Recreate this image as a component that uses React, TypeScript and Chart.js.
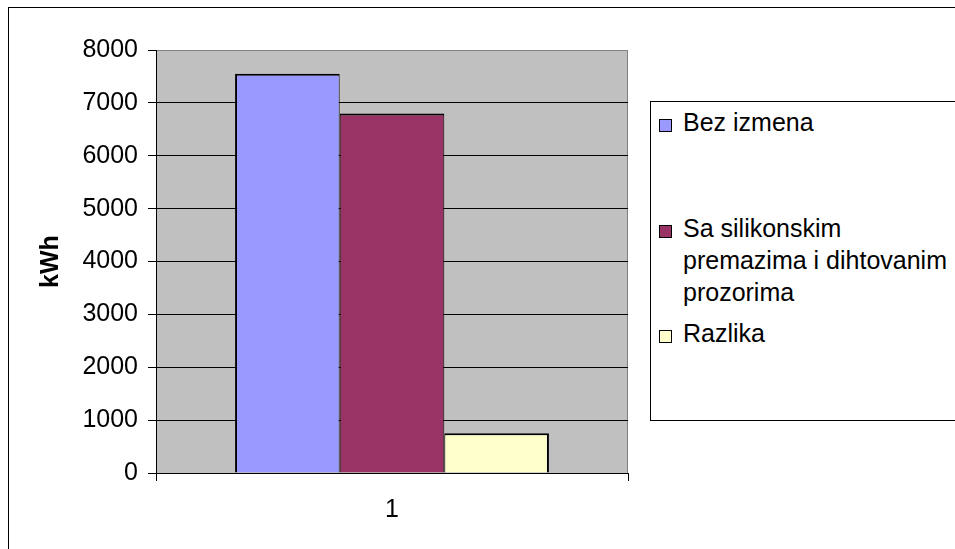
import React, { useEffect, useRef } from "react";
import { Chart, registerables } from "chart.js";

Chart.register(...registerables);

const categories = ["1"];
const seriesNames = [
  "Bez izmena",
  "Sa silikonskim premazima i dihtovanim prozorima",
  "Razlika",
];
const bezIzmena = [7550];
const saSilikonskim = [6800];
const razlika = [750];
const seriesColors = ["#9999FF", "#993366", "#FFFFCC"];
const yMin = 0;
const yMax = 8000;
const yStep = 1000;
const yTitle = "kWh";

const FONT = '"Liberation Sans", Arial, sans-serif';

const plotBg = {
  id: "plotBg",
  beforeDraw(chart: any) {
    const { ctx, chartArea } = chart;
    ctx.save();
    ctx.fillStyle = "#C0C0C0";
    ctx.fillRect(chartArea.left, chartArea.top, chartArea.right - chartArea.left, chartArea.bottom - chartArea.top);
    ctx.strokeStyle = "#808080";
    ctx.lineWidth = 1;
    ctx.strokeRect(chartArea.left + 0.5, chartArea.top + 0.5, chartArea.right - chartArea.left - 1, chartArea.bottom - chartArea.top);
    ctx.restore();
  },
};

export default function App() {
  const canvasRef = useRef<HTMLCanvasElement | null>(null);

  useEffect(() => {
    if (!canvasRef.current) return;
    const values = [bezIzmena, saSilikonskim, razlika];
    const borders = [
      { top: 2, left: 2, right: 1, bottom: 0 },
      { top: 2, left: 1, right: 1, bottom: 0 },
      { top: 2, left: 1, right: 2, bottom: 0 },
    ];
    const chart = new Chart(canvasRef.current, {
      type: "bar",
      data: {
        labels: categories,
        datasets: seriesNames.map((name, i) => ({
          label: name,
          data: values[i],
          backgroundColor: seriesColors[i],
          borderColor: "#000000",
          borderWidth: borders[i],
          borderSkipped: false,
          categoryPercentage: 0.665,
          barPercentage: 1,
        })),
      },
      options: {
        responsive: false,
        animation: false,
        layout: { padding: { top: 50, right: 327, left: 0, bottom: 0 } },
        plugins: {
          legend: { display: false },
          tooltip: { enabled: false },
        },
        scales: {
          x: {
            grid: {
              display: true,
              drawOnChartArea: false,
              drawTicks: true,
              tickLength: 8,
              color: "#000000",
              offset: true,
            },
            border: { display: true, color: "#000000", width: 1 },
            ticks: { color: "#000000", font: { family: FONT, size: 25 }, padding: 14 },
            afterFit: (s: any) => {
              s.height = 76;
            },
          },
          y: {
            min: yMin,
            max: yMax,
            ticks: {
              stepSize: yStep,
              color: "#000000",
              font: { family: FONT, size: 25 },
              padding: 10,
              callback: (v: any) => String(v),
            },
            grid: {
              color: (c: any) => (c.tick && c.tick.value === yMax ? "#808080" : "#000000"),
              tickColor: "#000000",
              tickLength: 8,
              lineWidth: 1,
            },
            border: { display: true, color: "#000000", width: 1 },
            title: {
              display: true,
              text: yTitle,
              color: "#000000",
              font: { family: FONT, size: 25, weight: "bold" },
              padding: { top: 36, bottom: 0 },
            },
            afterFit: (s: any) => {
              s.width = 156;
            },
          },
        },
      },
      plugins: [plotBg],
    });
    return () => chart.destroy();
  }, []);

  const itemTops = [106, 212, 317];

  return (
    <div
      style={{
        position: "absolute",
        left: 0,
        top: 0,
        width: 955,
        height: 549,
        overflow: "hidden",
        background: "#ffffff",
        fontFamily: FONT,
      }}
    >
      <div
        style={{
          position: "absolute",
          left: 8,
          top: 7,
          width: 1100,
          height: 700,
          borderLeft: "1px solid #000",
          borderTop: "1px solid #000",
        }}
      />
      <canvas
        ref={canvasRef}
        width={955}
        height={549}
        style={{ position: "absolute", left: 0, top: 0, width: 955, height: 549 }}
      />
      <div
        style={{
          position: "absolute",
          left: 650,
          top: 101,
          width: 400,
          height: 318,
          border: "1px solid #000",
          background: "#ffffff",
        }}
      >
        {seriesNames.map((name, i) => (
          <div
            key={name}
            style={{
              position: "absolute",
              left: 0,
              top: itemTops[i] - 102,
              width: 400,
            }}
          >
            <div
              style={{
                position: "absolute",
                left: 8,
                top: 13,
                width: 11,
                height: 11,
                border: "1px solid #000",
                background: seriesColors[i],
              }}
            />
            <div
              style={{
                position: "absolute",
                left: 32,
                top: 0,
                width: 280,
                fontSize: 25,
                lineHeight: "32px",
                color: "#000",
              }}
            >
              {name}
            </div>
          </div>
        ))}
      </div>
    </div>
  );
}
